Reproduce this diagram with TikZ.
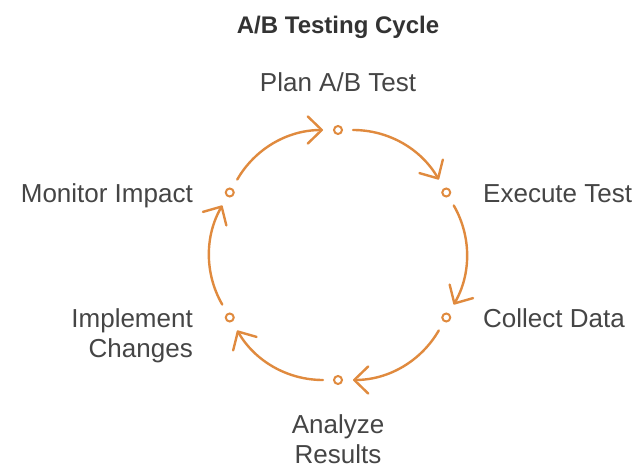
\documentclass[tikz,border=0pt]{standalone}
\usepackage{fontspec}
\setmainfont{Liberation Sans}
\usetikzlibrary{arrows.meta,calc}
\definecolor{cycleorange}{HTML}{E08A3E}
\definecolor{labelgray}{HTML}{454545}
\definecolor{titlegray}{HTML}{333333}
\begin{document}
\begin{tikzpicture}[x=1pt,y=1pt,
  dot/.style={circle,draw=cycleorange,line width=2pt,minimum size=8pt,inner sep=0pt,fill=white},
  flow/.style={draw=cycleorange,line width=2.4pt,line cap=round,
    -{Straight Barb[length=14pt,width=27pt,round]},
    bend left=30,shorten <=10pt,shorten >=10pt},
  label/.style={text=labelgray,inner sep=0pt,font=\fontsize{26}{30}\selectfont},
  heading/.style={text=titlegray,inner sep=0pt,font=\bfseries\fontsize{24}{28}\selectfont}]
  % canvas
  \path[use as bounding box,fill=white] (0,0) rectangle (641,467);
  \coordinate (c) at (338,212);

  % title
  \node[heading,anchor=base] (title) at (338,433) {A/B Testing Cycle};

  % stage markers around the cycle
  \node[dot] (plan)      at ($(c)+(90:125)$)   {};
  \node[dot] (execute)   at ($(c)+(30:125)$)   {};
  \node[dot] (collect)   at ($(c)+(-30:125)$)  {};
  \node[dot] (analyze)   at ($(c)+(-90:125)$)  {};
  \node[dot] (implement) at ($(c)+(-150:125)$) {};
  \node[dot] (monitor)   at ($(c)+(150:125)$)  {};

  % stage labels (multi-line labels are anchored on their last line)
  \node[label,anchor=base] (planL) at (338,375) {Plan A/B Test};
  \node[label,anchor=base west] (executeL) at (483,265) {Execute Test};
  \node[label,anchor=base west] (collectL) at (483,140) {Collect Data};
  \node[label,anchor=base,align=center] (analyzeL) at (338,4) {Analyze\\Results};
  \node[label,anchor=base east,align=right] (implementL) at (193,110) {Implement\\Changes};
  \node[label,anchor=base east] (monitorL) at (193,265) {Monitor Impact};

  % clockwise connectors
  \draw[flow] (plan) to (execute);
  \draw[flow] (execute) to (collect);
  \draw[flow] (collect) to (analyze);
  \draw[flow] (analyze) to (implement);
  \draw[flow] (implement) to (monitor);
  \draw[flow] (monitor) to (plan);
\end{tikzpicture}
\end{document}
